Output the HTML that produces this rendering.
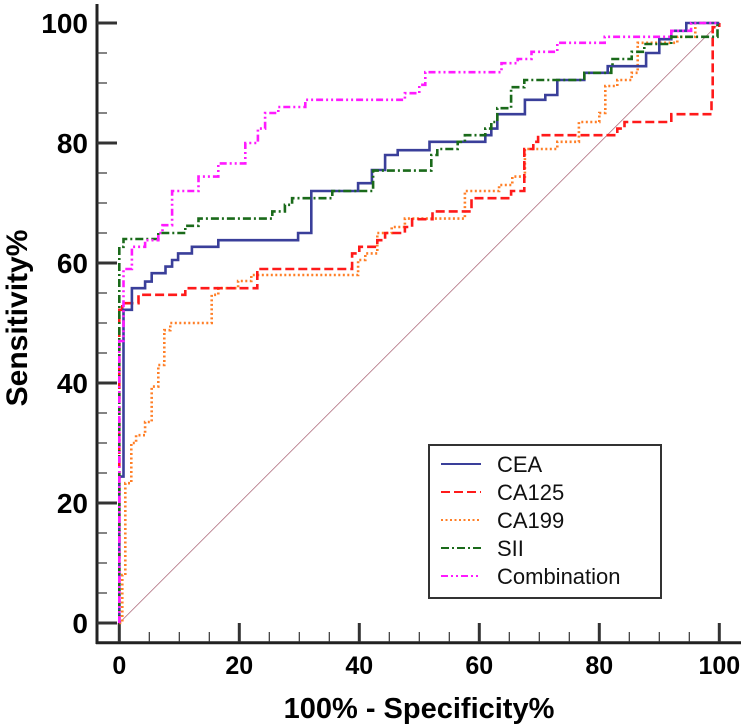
<!DOCTYPE html>
<html><head><meta charset="utf-8"><style>
body{margin:0;background:#fff}
svg{display:block;font-family:"Liberation Sans",Arial,sans-serif}
</style></head><body>
<svg id="chart" width="744" height="728" viewBox="0 0 744 728">
<g id="axes"></g>
<g id="curves"></g>
<g id="legend"></g>
</svg>
<script>
const xTicks=[0,20,40,60,80,100];
const yTicks=[0,20,40,60,80,100];
const seriesNames=["CEA","CA125","CA199","SII","Combination"];
const ceaX=[0,0,0.7,0.7,1,2.1,4.3,5.4,7.7,8.8,9.8,12.1,14.3,16.5,29.8,32,39.8,42.1,44.3,46.4,51.7,61,62,63,67.6,71,73,77.5,81.4,87.8,90,92,94.5,100];
const ceaY=[0,24.4,24.4,52.2,52.2,55.8,56.9,58.3,59.4,60.5,61.6,62.7,62.7,63.8,65,72,73.3,75.5,78,78.8,80.2,81.3,82.4,84.8,87.2,88,90.5,91.7,92.8,95,97.3,98.7,100,100];
const ca125X=[0,0.5,3.2,11,23,38.8,40,43,44.3,47.6,48.8,52.2,58.7,65.3,67.5,69,69.8,83,84.2,92,98.7,98.9,100];
const ca125Y=[52.2,53.3,54.7,55.8,59,61.6,62.7,63.8,65,66,67.3,68.6,70.8,72,79,80.2,81.3,82.4,83.5,84.8,87.2,99.3,100];
const ca199X=[0,0.5,1,2,2.8,4.3,5.4,6.5,7.5,8.5,15.4,16.5,19.8,22,39.8,41,43,45.4,47.6,57.6,63.3,65.5,67.6,73,76.6,80,81,83,85.4,86.4,93,96,100];
const ca199Y=[0,8,23.3,30,31.3,33.5,39.4,43,48.8,50,54.7,55.8,57,58,60.5,61.6,65,66,67.4,72,73,74.4,79,80.2,83.5,85,89.5,90.5,91.7,96.7,97.7,100,100];
const siiX=[0,0.7,6.5,11,13.2,25.5,27.6,28.8,35.5,42.3,52,53,56.4,57.6,61,62,63,65.3,67.5,77.5,82,82.2,85.4,87.5,92,99.7,100];
const siiY=[62.7,64,65,66.2,67.4,68.6,69.7,70.8,72,75.4,78,79,80.2,81.3,82.4,83.5,85.8,89.3,90.5,91.7,92.8,94,95.2,96.5,97.7,100,100];
const combX=[0,0.7,2.1,4.3,6.5,7.2,8.8,13.2,16.5,21,23.1,24.3,26.5,31,47.6,50,51,63.7,66.4,68.7,73,80.9,92,95.3,100];
const combY=[47,59,62.7,63.8,65,66.3,72,74.4,76.6,80,82.4,85,86,87.2,88.3,89.7,91.8,93.3,94,95.2,96.7,97.7,98.7,100,100];

const NS="http://www.w3.org/2000/svg";
const X0=119.3,X1=719.3,Y0=623,Y1=23;
function sx(v){return X0+(X1-X0)*v/100;}
function sy(v){return Y0+(Y1-Y0)*v/100;}
function mk(tag,attrs,parent){const e=document.createElementNS(NS,tag);for(const k in attrs)e.setAttribute(k,attrs[k]);parent.appendChild(e);return e;}
const axes=document.getElementById('axes');
let e;
e=mk('line',{x1:97,y1:4,x2:97,y2:644,stroke:'#222','stroke-width':3},axes);


e=mk('line',{x1:96,y1:642.7,x2:741,y2:642.7,stroke:'#222','stroke-width':3},axes);


for(let v=0;v<=100;v+=5){
  const major=v%20===0;
  e=mk('line',{x1:97,y1:sy(v),x2:major?117:107,y2:sy(v),stroke:'#333','stroke-width':major?3:1.2},axes);
  
  
  e=mk('line',{x1:sx(v),y1:642,x2:sx(v),y2:major?623:632,stroke:'#333','stroke-width':major?3:1.2},axes);
  
  
}
yTicks.forEach(v=>{
  e=mk('text',{x:88,y:sy(v)+10,'text-anchor':'end','font-size':28,'font-weight':'bold'},axes);
  e.textContent=v;
  
  
});
xTicks.forEach(v=>{
  e=mk('text',{x:sx(v),y:674,'text-anchor':'middle','font-size':25,'font-weight':'bold'},axes);
  e.textContent=v;
  
  
});
e=mk('text',{x:419,y:718,'text-anchor':'middle','font-size':29,'font-weight':'bold'},axes);
e.textContent='100% - Specificity%';


e=mk('text',{x:0,y:0,'text-anchor':'middle','font-size':30,'font-weight':'bold',transform:'translate(27,318) rotate(-90)'},axes);
e.textContent='Sensitivity%';



const curves=document.getElementById('curves');
e=mk('line',{x1:sx(0),y1:sy(0),x2:sx(100),y2:sy(100),stroke:'#b07080','stroke-width':0.8},curves);


const styles=[
 {c:'#3a3f9a',d:''},
 {c:'#ff1a1a',d:'9,4'},
 {c:'#ff7f27',d:'2,2.5'},
 {c:'#1a6a1a',d:'8,3,2,3'},
 {c:'#ff1aff',d:'7,3,2,3,2,3'}];
const data=[[ceaX,ceaY],[ca125X,ca125Y],[ca199X,ca199Y],[siiX,siiY],[combX,combY]];
const order=[2,1,0,3,4];
order.forEach(i=>{
  const [xs,ys]=data[i];
  let d='M'+sx(0)+','+sy(0)+' L'+sx(xs[0])+','+sy(ys[0]);
  for(let k=1;k<xs.length;k++){d+=' L'+sx(xs[k])+','+sy(ys[k-1])+' L'+sx(xs[k])+','+sy(ys[k]);}
  e=mk('path',{d:d,fill:'none',stroke:styles[i].c,'stroke-width':2.6,'stroke-dasharray':styles[i].d},curves);
  
  
});

const lg=document.getElementById('legend');
e=mk('rect',{x:429,y:445,width:232,height:153,fill:'#fff',stroke:'#333','stroke-width':2},lg);


seriesNames.forEach((n,i)=>{
  const y=464+i*28;
  e=mk('line',{x1:441,y1:y,x2:481,y2:y,stroke:styles[i].c,'stroke-width':2,'stroke-dasharray':styles[i].d},lg);
  
  
  e=mk('text',{x:497,y:y+8,'font-size':22,fill:'#111'},lg);
  e.textContent=n;
  
  
});
</script>
</body></html>
